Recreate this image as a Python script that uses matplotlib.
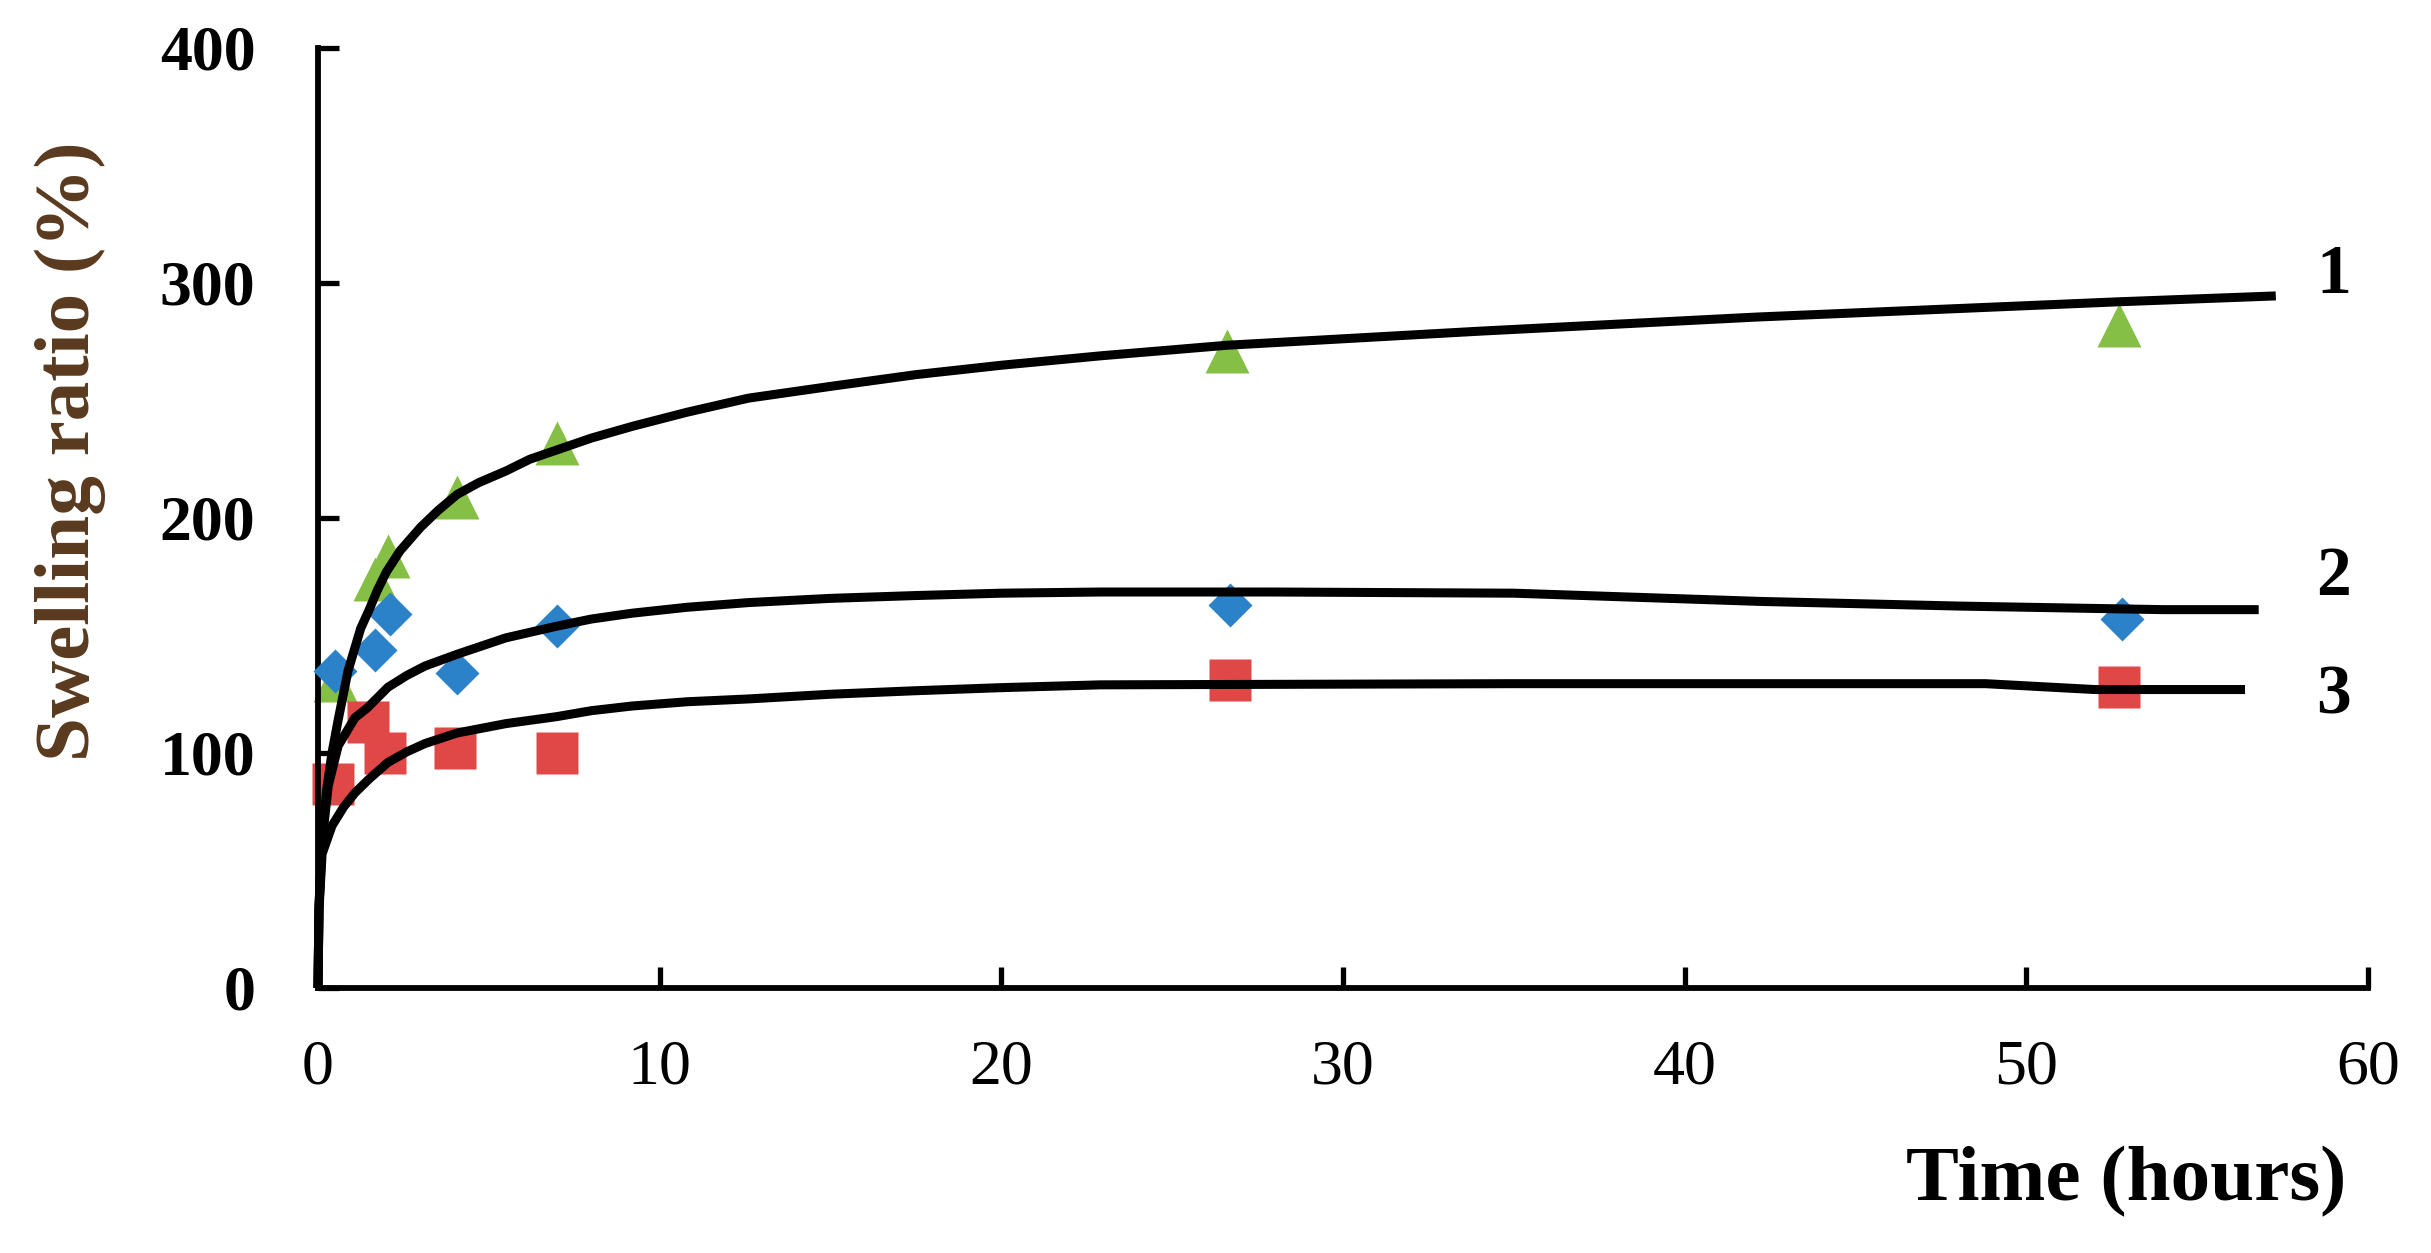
import matplotlib
matplotlib.use("Agg")
import matplotlib.pyplot as plt

t_obs1 = [0.5, 1.67, 2.05, 4.07, 7.0, 26.6, 52.7]
sr_obs1 = [131, 174, 184, 209, 232, 271, 282]
t_obs2 = [0.5, 1.67, 2.1, 4.07, 7.0, 26.7, 52.8]
sr_obs2 = [135, 144, 159, 134, 154, 163, 157]
t_obs3 = [0.45, 1.46, 1.96, 4.0, 7.0, 26.7, 52.7]
sr_obs3 = [87, 113, 100, 102, 100, 131, 128]

# fitted curves
t_fit1 = [0, 0.03, 0.12, 0.25, 0.41, 0.59, 0.88, 1.25, 1.5, 1.73, 2.0, 2.4, 3.0, 3.5,
          4.07, 4.7, 5.5, 6.2, 7.0, 8.0, 9.2, 10.8, 12.6, 15.0, 17.5, 20.0, 22.9,
          26.6, 34.0, 42.1, 52.7, 57.3]
sr_fit1 = [0, 35, 64, 84, 100, 114, 135, 153, 161, 169, 177, 186, 196, 203,
           210, 215, 220, 225, 229, 234, 239, 245, 251, 256, 261, 265, 269,
           273.5, 279.5, 285.5, 292, 294.5]
t_fit2 = [0, 0.03, 0.12, 0.3, 0.59, 1.08, 1.43, 2.05, 2.6, 3.13, 4.07, 5.5, 7.0,
          8.0, 9.2, 10.8, 12.6, 15.0, 17.5, 20.0, 22.9, 28.0, 35.0, 42.2, 48.1, 54.0, 56.8]
sr_fit2 = [0, 35, 62, 86, 103, 115, 119, 128, 133, 137, 142, 149, 154,
           157, 159.5, 162, 164, 165.8, 167, 168, 168.5, 168.5, 168, 164.5, 162.5, 161, 161]
t_fit3 = [0, 0.03, 0.12, 0.41, 0.75, 1.08, 1.5, 2.05, 2.6, 3.13, 4.07, 5.5, 7.0,
          8.0, 9.2, 10.8, 12.6, 15.0, 17.5, 20.0, 22.9, 35.0, 48.8, 52.0, 56.4]
sr_fit3 = [0, 33, 57, 69, 77, 83, 89, 96, 100.5, 104, 108.5, 112.5, 115.5,
           118, 120, 121.8, 123, 125, 126.5, 127.8, 129, 129.5, 129.5, 127, 127]

curve_names = ["1", "2", "3"]
x_ticks = [0, 10, 20, 30, 40, 50, 60]
y_ticks = [0, 100, 200, 300, 400]

GREEN = "#86BF45"
BLUE = "#2B82C9"
RED = "#E04848"
SERIF = ["Liberation Serif", "DejaVu Serif"]

fig = plt.figure(figsize=(24.31, 12.53), dpi=100)
ax = fig.add_axes([0.1308, 0.2115, 0.8433, 0.7502])

ax.plot(t_obs1, sr_obs1, ls="none", marker="^", ms=32, color=GREEN, mec="none", clip_on=False, zorder=2)
ax.plot(t_obs3, sr_obs3, ls="none", marker="s", ms=30, color=RED, mec="none", clip_on=False, zorder=2)
ax.plot(t_obs2, sr_obs2, ls="none", marker="D", ms=22, color=BLUE, mec="none", clip_on=False, zorder=3)

for t, sr in [(t_fit1, sr_fit1), (t_fit2, sr_fit2), (t_fit3, sr_fit3)]:
    ax.plot(t, sr, color="black", lw=6.5, solid_capstyle="butt", solid_joinstyle="round",
            clip_on=False, zorder=4)

# curve numbers at the right end
for name, ypos in zip(curve_names, [303, 174.5, 124]):
    ax.text(59.0, ypos, name, fontsize=50, fontweight="bold", family=SERIF,
            ha="center", va="center", clip_on=False)

ax.set_xlim(0, 60)
ax.set_ylim(0, 400)
ax.set_xticks(x_ticks)
ax.set_yticks(y_ticks)
ax.spines["top"].set_visible(False)
ax.spines["right"].set_visible(False)
for s in ("left", "bottom"):
    ax.spines[s].set_linewidth(4.2)

ax.tick_params(axis="both", direction="in", length=15, width=3.8)
ax.tick_params(axis="y", pad=45)
ax.tick_params(axis="x", pad=37)
for lab in ax.get_yticklabels():
    lab.set_fontfamily(SERIF)
    lab.set_fontsize(46)
    lab.set_fontweight("bold")
for lab in ax.get_xticklabels():
    lab.set_fontfamily(SERIF)
    lab.set_fontsize(46)

ax.set_xlabel("Time (hours)", fontsize=57, fontweight="bold", family=SERIF, va="center", ha="center")
ax.xaxis.set_label_coords(0.882, -0.206)
ax.set_ylabel("Swelling ratio (%)", fontsize=57, fontweight="bold", family=SERIF,
              color="#5a3a1e", va="center", ha="center")
ax.yaxis.set_label_coords(-0.121, 0.571)

fig.savefig("out.png", dpi=100)
